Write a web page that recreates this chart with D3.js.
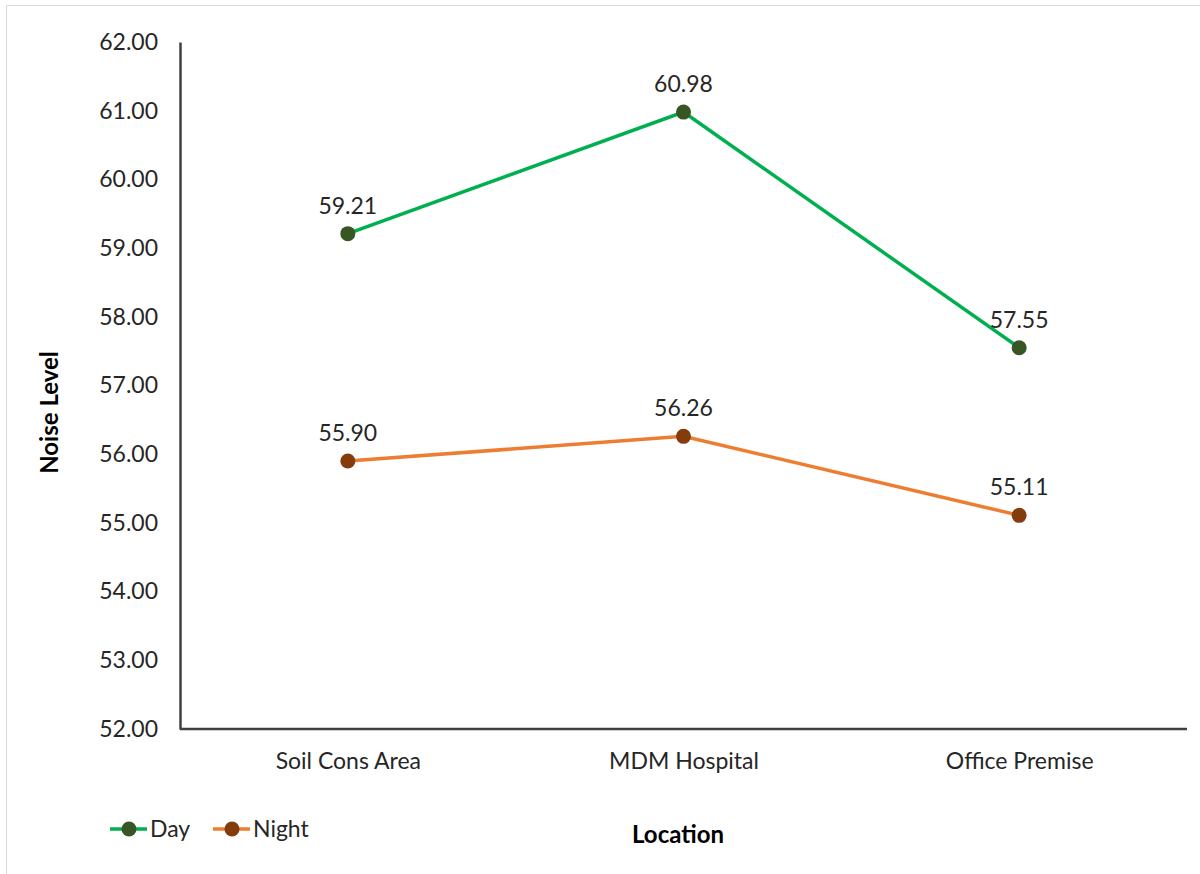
<!DOCTYPE html>
<html>
<head>
<meta charset="utf-8">
<script src="https://cdn.jsdelivr.net/npm/d3@7"></script>
<style>
  html, body { margin: 0; padding: 0; background: #fff; }
  svg { display: block; font-family: Lato, "Open Sans", sans-serif; }
</style>
</head>
<body>
<svg id="chart" width="1200" height="874"></svg>
<script>
// Noise level by monitoring location, day vs night
const locations = ["Soil Cons Area", "MDM Hospital", "Office Premise"];
const dayValues = [59.21, 60.98, 57.55];
const nightValues = [55.90, 56.26, 55.11];
const seriesNames = ["Day", "Night"];
const yTicks = [52, 53, 54, 55, 56, 57, 58, 59, 60, 61, 62];

const series = [
  { name: seriesNames[0], values: dayValues, line: "#00b050", dot: "#375623" },
  { name: seriesNames[1], values: nightValues, line: "#ed7d31", dot: "#843c0c" }
];

const svg = d3.select("#chart");
const W = 1200, H = 874;
const m = { left: 180, right: 13, top: 42, bottom: 145 };
const fs = 23;

// chart frame
svg.append("rect")
  .attr("x", 6.5).attr("y", 5.5)
  .attr("width", W).attr("height", H)
  .attr("fill", "#fff").attr("stroke", "#d9d9d9");

const x = d3.scalePoint()
  .domain(locations)
  .range([m.left, W - m.right])
  .padding(0.5);

const y = d3.scaleLinear()
  .domain([52, 62])
  .range([H - m.bottom, m.top]);

// y axis
const yAxis = svg.append("g")
  .attr("transform", `translate(${m.left},0)`)
  .call(d3.axisLeft(y).tickValues(yTicks).tickFormat(d3.format(".2f")).tickSize(0).tickPadding(22));
yAxis.select(".domain").attr("stroke", "#404040").attr("stroke-width", 2.5);
yAxis.selectAll("text").attr("font-size", fs).attr("fill", "#262626")
  .attr("font-family", "Lato, sans-serif");

// x axis
const xAxis = svg.append("g")
  .attr("transform", `translate(0,${H - m.bottom})`)
  .call(d3.axisBottom(x).tickSize(0).tickPadding(24));
xAxis.select(".domain").attr("stroke", "#404040").attr("stroke-width", 2.5)
  .attr("d", `M${m.left},0H${W - m.right}`);
xAxis.selectAll("text").attr("font-size", fs).attr("fill", "#262626")
  .attr("font-family", "Lato, sans-serif");

// axis titles
svg.append("text")
  .attr("transform", `translate(58,${(m.top + H - m.bottom) / 2 + 27}) rotate(-90)`)
  .attr("text-anchor", "middle")
  .attr("font-size", 24).attr("font-weight", "bold").attr("fill", "#000")
  .text("Noise Level");

svg.append("text")
  .attr("x", 678).attr("y", 843)
  .attr("text-anchor", "middle")
  .attr("font-size", 24).attr("font-weight", "bold").attr("fill", "#000")
  .text("Location");

// series lines, markers and value labels
const line = d3.line()
  .x((d, i) => x(locations[i]))
  .y(d => y(d));

series.forEach(s => {
  const g = svg.append("g");
  g.append("path")
    .datum(s.values)
    .attr("d", line)
    .attr("fill", "none")
    .attr("stroke", s.line)
    .attr("stroke-width", 3.5);
  g.selectAll("circle")
    .data(s.values)
    .join("circle")
    .attr("cx", (d, i) => x(locations[i]))
    .attr("cy", d => y(d))
    .attr("r", 7.5)
    .attr("fill", s.dot);
  g.selectAll("text")
    .data(s.values)
    .join("text")
    .attr("x", (d, i) => x(locations[i]))
    .attr("y", d => y(d) - 20)
    .attr("text-anchor", "middle")
    .attr("font-size", fs).attr("fill", "#262626")
    .text(d => d.toFixed(2));
});

// legend
const legend = svg.append("g").attr("transform", "translate(110,829)");
series.forEach((s, i) => {
  const lg = legend.append("g").attr("transform", `translate(${i * 103},0)`);
  lg.append("line").attr("x1", 0).attr("x2", 37).attr("y1", 0).attr("y2", 0)
    .attr("stroke", s.line).attr("stroke-width", 3.5);
  lg.append("circle").attr("cx", 19).attr("cy", 0).attr("r", 7.5).attr("fill", s.dot);
  lg.append("text").attr("x", 40).attr("y", 8)
    .attr("font-size", fs).attr("fill", "#262626")
    .text(s.name);
});
</script>
</body>
</html>
